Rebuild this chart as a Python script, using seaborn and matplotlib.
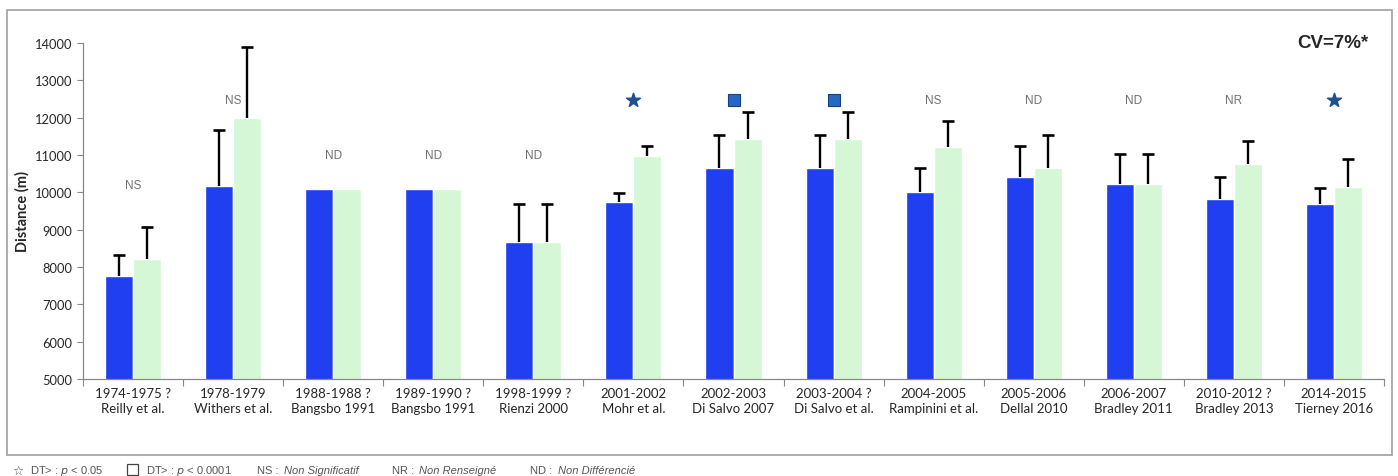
import numpy as np
import pandas as pd
import matplotlib.pyplot as plt
import seaborn as sns
from matplotlib.patches import Rectangle

# Data
periods = ['1974-1975 ?', '1978-1979', '1988-1988 ?', '1989-1990 ?', '1998-1999 ?',
           '2001-2002', '2002-2003', '2003-2004 ?', '2004-2005', '2005-2006',
           '2006-2007', '2010-2012 ?', '2014-2015']
studies = ['Reilly et al.', 'Withers et al.', 'Bangsbo 1991', 'Bangsbo 1991', 'Rienzi 2000',
           'Mohr et al.', 'Di Salvo 2007', 'Di Salvo et al.', 'Rampinini et al.', 'Dellal 2010',
           'Bradley 2011', 'Bradley 2013', 'Tierney 2016']
dist_blue = [7770, 10170, 10100, 10100, 8680, 9740, 10650, 10650, 10020, 10420, 10220, 9830, 9680]
sd_blue = [550, 1510, 0, 0, 1020, 250, 880, 880, 640, 820, 820, 590, 440]
dist_green = [8220, 12000, 10080, 10080, 8680, 10980, 11420, 11420, 11220, 10640, 10210, 10750, 10150]
sd_green = [860, 1880, 0, 0, 1020, 270, 730, 730, 700, 890, 830, 630, 750]
signif = ['NS', 'NS', 'ND', 'ND', 'ND', 'star', 'square', 'square', 'NS', 'ND', 'ND', 'NR', 'star']
signif_y = [10200, 12460, 11000, 11000, 11000, 12460, 12460, 12460, 12460, 12460, 12460, 12460, 12460]

labels = [p + '\n' + s for p, s in zip(periods, studies)]
df = pd.DataFrame({
    'groupe': labels * 2,
    'serie': ['bleu'] * len(labels) + ['vert'] * len(labels),
    'distance': dist_blue + dist_green,
    'sd': sd_blue + sd_green,
})

sns.set_style('white')
plt.rcParams['font.family'] = ['Lato', 'DejaVu Sans']

fig = plt.figure(figsize=(13.98, 4.77), dpi=100)
ax = fig.add_axes([83 / 1398, 1 - 380 / 477, (1384 - 83) / 1398, (380 - 44) / 477])

sns.barplot(data=df, x='groupe', y='distance', hue='serie',
            palette={'bleu': '#1f3ff0', 'vert': '#d6f7d6'},
            width=0.56, gap=0, dodge=True, saturation=1, errorbar=None,
            legend=False, ax=ax)

# one-sided error bars (upper half only) on top of each bar
for cont, sds in zip(ax.containers, [sd_blue, sd_green]):
    xs, tops, ends = [], [], []
    for bar, sd in zip(cont, sds):
        if sd <= 0:
            continue
        xs.append(bar.get_x() + bar.get_width() / 2)
        tops.append(bar.get_height())
        ends.append(bar.get_height() + sd)
    ax.vlines(xs, tops, ends, color='black', linewidth=1.7, zorder=3)
    ax.plot(xs, ends, linestyle='none', marker='_', markersize=8,
            markeredgewidth=1.9, color='black', zorder=3)

# significance marks above each group
for i, (m, yv) in enumerate(zip(signif, signif_y)):
    if m == 'star':
        ax.scatter(i, yv, marker='*', s=110, color='#1f4f8f', zorder=4, clip_on=False)
    elif m == 'square':
        ax.scatter(i, yv, marker='s', s=70, color='#2468c6', edgecolor='#17407a',
                   linewidth=0.8, zorder=4, clip_on=False)
    else:
        ax.text(i, yv, m, ha='center', va='center', fontsize=8.5, color='#707070',
                family=['Liberation Sans', 'DejaVu Sans'])

ax.set_ylim(5000, 14000)
ax.set_xlim(-0.5, len(labels) - 0.5)
ax.set_yticks(range(5000, 14001, 1000))
ax.set_xlabel('')
ax.set_ylabel('Distance (m)', fontsize=10.5, fontweight='bold', labelpad=4)
ax.tick_params(axis='y', labelsize=9.3, length=4, width=0.8, color='#888888', left=True)
ax.tick_params(axis='x', labelsize=9.5, length=0, pad=6)
ax.set_xticks(np.arange(-0.5, len(labels)), minor=True)
ax.tick_params(axis='x', which='minor', length=5, width=0.8, color='#888888', bottom=True)
for lbl in ax.get_xticklabels():
    lbl.set_linespacing(1.3)

sns.despine(ax=ax)
for side in ['left', 'bottom']:
    ax.spines[side].set_color('#888888')
    ax.spines[side].set_linewidth(0.9)

fig.text(1368 / 1398, 1 - 43 / 477, 'CV=7%*', ha='right', va='center',
         fontsize=13.5, fontweight='bold', family=['Liberation Sans', 'DejaVu Sans'])

# grey frame around the chart
fig.patches.append(Rectangle((7 / 1398, 1 - 456 / 477), 1385 / 1398, 445 / 477,
                             transform=fig.transFigure, fill=False,
                             edgecolor='#a0a0a0', linewidth=1.2))

# footnote legend
ly = 1 - 471 / 477
fkw = dict(fontsize=8, color='#555555', va='center', family=['Liberation Sans', 'DejaVu Sans'])
fig.text(12 / 1398, ly, '\u2606', **{**fkw, 'family': ['DejaVu Sans'], 'fontsize': 9})
fig.text(30 / 1398, ly, 'DT> : $p$ < 0.05', **fkw)
fig.patches.append(Rectangle((127 / 1398, 1 - 476 / 477), 11 / 1398, 11 / 477,
                             transform=fig.transFigure, fill=False,
                             edgecolor='#444444', linewidth=0.9))
fig.text(146 / 1398, ly, 'DT> : $p$ < 0.0001', **fkw)
fig.text(257 / 1398, ly, 'NS :', **fkw)
fig.text(284 / 1398, ly, 'Non Significatif', style='italic', **fkw)
fig.text(392 / 1398, ly, 'NR :', **fkw)
fig.text(419 / 1398, ly, 'Non Renseigné', style='italic', **fkw)
fig.text(530 / 1398, ly, 'ND :', **fkw)
fig.text(558 / 1398, ly, 'Non Différencié', style='italic', **fkw)

fig.savefig('out.png', dpi=100)
